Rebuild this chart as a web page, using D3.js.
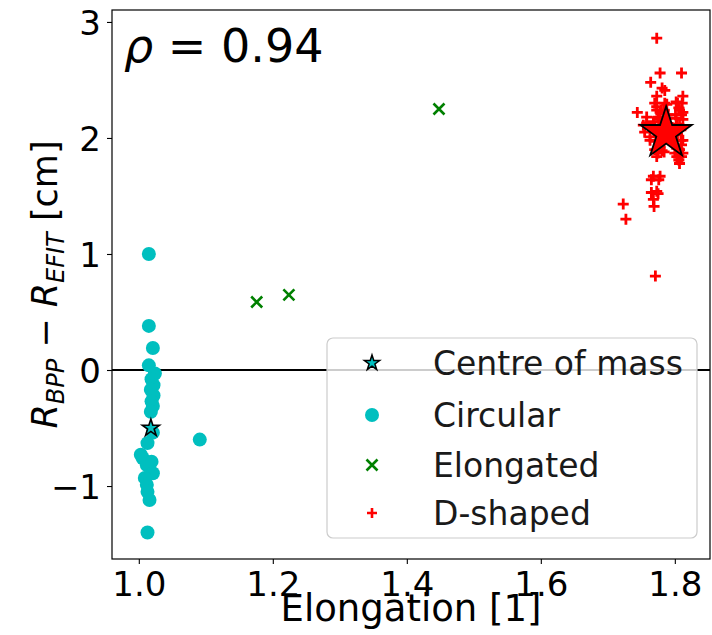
<!DOCTYPE html>
<html><head><meta charset="utf-8">
<script src="https://cdn.jsdelivr.net/npm/d3@7"></script>
<style>body{margin:0;background:#fff}svg{display:block}text{font-family:"DejaVu Sans",sans-serif}</style>
</head><body>
<svg id="c" width="712" height="635"></svg>
<script>
// ---- data ----
const circX = [1.015,1.015,1.021,1.015,1.024,1.019,1.022,1.018,1.022,1.019,1.021,1.018,1.021,1.013,1.091,1.006,1.019,1.012,1.021,1.009,1.012,1.013,1.016,1.013,1.003];
const circY = [1.00,0.38,0.19,0.04,-0.03,-0.08,-0.13,-0.17,-0.22,-0.27,-0.31,-0.36,-0.54,-0.63,-0.60,-0.76,-0.79,-0.82,-0.89,-0.93,-0.99,-1.05,-1.12,-1.40,-0.73];
const elonX = [1.176,1.224,1.448];
const elonY = [0.586,0.647,2.25];
const dX = [1.773,1.778,1.810,1.764,1.781,1.785,1.773,1.788,1.744,1.758,1.758,1.763,1.773,1.781,1.807,1.803,1.765,1.776,1.765,1.773,1.775,1.768,1.769,1.723,1.727,1.771,
  1.812,1.802,1.804,1.811,1.770,1.785,1.773,1.775,1.780,1.807,1.810,1.802,1.812,1.768,1.753,1.755,1.763,1.770,1.775,1.807,1.812,1.807,1.800,1.810,1.768,1.778,
  1.778,1.785,1.793,1.784,1.796,1.806,1.812,1.803,1.809,1.804,1.810,1.803,1.812,1.806,1.773,1.778,1.784,1.790,1.776,1.787,1.770,1.775,1.772,1.778,1.784,1.809,1.801];
const dY = [2.86,2.56,2.56,2.48,2.43,2.41,2.36,2.29,2.22,2.18,2.13,2.01,1.84,1.89,1.78,1.84,1.64,1.64,1.53,1.54,1.52,1.47,1.41,1.43,1.30,0.81,
  2.36,2.31,2.30,2.30,2.30,2.30,2.24,2.18,2.24,2.24,2.20,2.17,2.16,2.14,2.11,2.05,1.98,1.90,1.87,2.11,1.98,1.90,1.87,1.84,1.67,1.67,
  2.11,2.07,2.03,1.98,2.09,2.26,2.22,2.12,2.07,2.03,1.94,1.91,1.87,1.81,2.27,2.22,2.24,2.20,2.16,2.17,2.09,2.03,1.97,1.92,1.88,1.98,2.20];
const comX = [1.018, 1.787];
const comY = [-0.50, 2.04];
const xTicks = [1.0,1.2,1.4,1.6,1.8];
const yTicks = [-1,0,1,2,3];
const legendLabels = ["Centre of mass","Circular","Elongated","D-shaped"];
const rhoText = "0.94";

// ---- layout ----
const svg = d3.select("#c");
const L=112,R=710,T=10,B=559;
const x = d3.scaleLinear().domain([0.96,1.8525]).range([L,R]);
const y = d3.scaleLinear().domain([-1.629,3.103]).range([B,T]);
const cCol="#00bfbf", gCol="#008000", rCol="#ff0000";

function starPath(r){
  const ri=r*0.381966, pts=[];
  for(let i=0;i<10;i++){const a=-Math.PI/2+i*Math.PI/5;const rr=i%2?ri:r;pts.push([rr*Math.cos(a),rr*Math.sin(a)]);}
  return "M"+pts.map(p=>p[0].toFixed(2)+","+p[1].toFixed(2)).join("L")+"Z";
}
function plusPath(h){return `M${-h},0H${h}M0,${-h}V${h}`;}
function xPath(h){return `M${-h},${-h}L${h},${h}M${-h},${h}L${h},${-h}`;}

const g = svg.append("g");
// zero line
g.append("line").attr("x1",L).attr("x2",R).attr("y1",y(0)).attr("y2",y(0)).attr("stroke","#000").attr("stroke-width",2);

// circular
g.selectAll("circle.c").data(circX.map((v,i)=>[v,circY[i]])).join("circle")
  .attr("cx",d=>x(d[0])).attr("cy",d=>y(d[1])).attr("r",7).attr("fill",cCol);
// elongated
g.selectAll("path.e").data(elonX.map((v,i)=>[v,elonY[i]])).join("path").attr("class","e")
  .attr("transform",d=>`translate(${x(d[0])},${y(d[1])})`).attr("d",xPath(5.5)).attr("stroke",gCol).attr("stroke-width",2.6).attr("fill","none");
// D-shaped
g.selectAll("path.d").data(dX.map((v,i)=>[v,dY[i]])).join("path").attr("class","d")
  .attr("transform",d=>`translate(${x(d[0])},${y(d[1])})`).attr("d",plusPath(5.5)).attr("stroke",rCol).attr("stroke-width",2.8).attr("fill","none");
// centres of mass
const comStyle=[{r:9,fill:cCol,sw:1.6},{r:27,fill:rCol,sw:1.8}];
g.selectAll("path.s").data(comX.map((v,i)=>[v,comY[i],i])).join("path").attr("class","s")
  .attr("transform",d=>`translate(${x(d[0])},${y(d[1])})`).attr("d",d=>starPath(comStyle[d[2]].r))
  .attr("fill",d=>comStyle[d[2]].fill).attr("stroke","#000").attr("stroke-width",d=>comStyle[d[2]].sw).attr("stroke-linejoin","miter");

// frame
svg.append("rect").attr("x",L).attr("y",T).attr("width",R-L).attr("height",B-T).attr("fill","none").attr("stroke","#000").attr("stroke-width",1.2);

// axes
const xa = svg.append("g").attr("transform",`translate(0,${B})`)
  .call(d3.axisBottom(x).tickValues(xTicks).tickFormat(d3.format(".1f")).tickSize(5).tickPadding(6));
const ya = svg.append("g").attr("transform",`translate(${L},0)`)
  .call(d3.axisLeft(y).tickValues(yTicks).tickFormat(d=>d<0?"\u2212"+Math.abs(d):d).tickSize(5).tickPadding(6));
[xa,ya].forEach(a=>{a.select(".domain").remove();a.selectAll("line").attr("stroke","#000").attr("stroke-width",1.1);
  a.selectAll("text").attr("font-size",34).attr("fill","#000").attr("font-family","DejaVu Sans");});
xa.selectAll("text").attr("dy","0.76em");
ya.selectAll("text").attr("dy","0.36em");

// axis labels
svg.append("text").attr("x",(L+R)/2).attr("y",621).attr("text-anchor","middle").attr("font-size",37).text("Elongation [1]");
const yl = svg.append("text").attr("transform",`translate(57,${(T+B)/2}) rotate(-90)`).attr("text-anchor","middle").attr("font-size",35);
yl.append("tspan").attr("font-style","italic").text("R");
yl.append("tspan").attr("font-style","italic").attr("font-size",24).attr("dy",7).text("BPP");
yl.append("tspan").attr("dy",-7).text("  \u2212  ");
yl.append("tspan").attr("font-style","italic").text("R");
yl.append("tspan").attr("font-style","italic").attr("font-size",24).attr("dy",7).text("EFIT");
yl.append("tspan").attr("dy",-7).text(" [cm]");

// rho annotation
const rt = svg.append("text").attr("x",124).attr("y",62).attr("font-size",46);
rt.append("tspan").attr("font-style","italic").text("\u03c1");
rt.append("tspan").text(" = "+rhoText);

// legend
const lg = svg.append("g");
lg.append("rect").attr("x",327).attr("y",338).attr("width",370).attr("height",200).attr("rx",6)
  .attr("fill","#fff").attr("fill-opacity",0.8).attr("stroke","#cccccc").attr("stroke-width",1.2);
const rowY=[363,415,465,513];
legendLabels.forEach((lab,i)=>{
  const gy=rowY[i], gx=372;
  const m = lg.append("g").attr("transform",`translate(${gx},${gy})`);
  if(i===0) m.append("path").attr("d",starPath(8)).attr("fill",cCol).attr("stroke","#000").attr("stroke-width",1.5);
  if(i===1) m.append("circle").attr("r",7).attr("fill",cCol);
  if(i===2) m.append("path").attr("d",xPath(5.5)).attr("stroke",gCol).attr("stroke-width",2.6);
  if(i===3) m.append("path").attr("d",plusPath(5)).attr("stroke",rCol).attr("stroke-width",2.6);
  lg.append("text").attr("x",433).attr("y",gy).attr("dy","0.36em").attr("font-size",33).attr("fill","#1a1a1a").text(lab);
});
</script>
</body></html>
